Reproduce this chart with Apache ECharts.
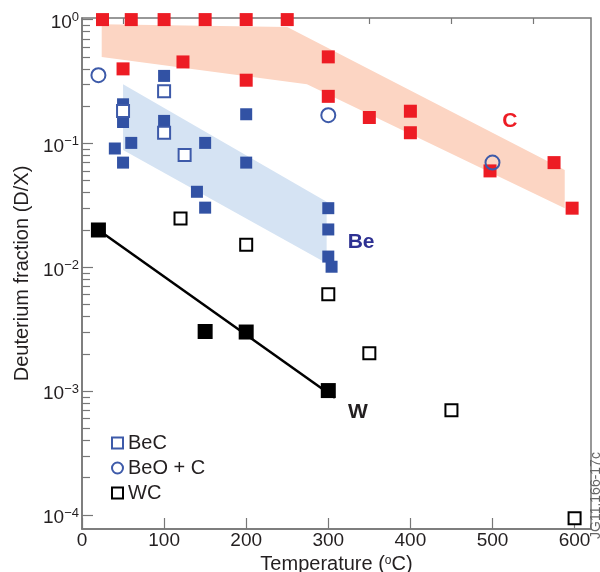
<!DOCTYPE html>
<html>
<head>
<meta charset="utf-8">
<script src="https://cdn.jsdelivr.net/npm/echarts@6/dist/echarts.min.js"></script>
<style>
html, body { margin: 0; padding: 0; background: #fff; }
#main { width: 600px; height: 572px; }
</style>
</head>
<body>
<div id="main"></div>
<script>
var chart = echarts.init(document.getElementById('main'));

// tick values
var xTicks = [0, 100, 200, 300, 400, 500, 600];
var xMinorTicks = [50, 150, 250, 350, 450, 550];
var yTicks = [1e-4, 1e-3, 1e-2, 1e-1, 1];
var yMinorTicks = [
    2e-4, 3e-4, 4e-4, 5e-4, 6e-4, 7e-4, 8e-4, 9e-4,
    2e-3, 3e-3, 4e-3, 5e-3, 6e-3, 7e-3, 8e-3, 9e-3,
    2e-2, 3e-2, 4e-2, 5e-2, 6e-2, 7e-2, 8e-2, 9e-2,
    0.2, 0.3, 0.4, 0.5, 0.6, 0.7, 0.8, 0.9
];

// [temperature, D/X]
var carbonPts = [[25, 1], [60, 1], [100, 1], [150, 1], [200, 1], [250, 1],
    [50, 0.40], [123, 0.455], [200, 0.324], [300, 0.50], [300, 0.24], [350, 0.162],
    [400, 0.182], [400, 0.122], [497, 0.060], [575, 0.070], [597, 0.030]];
var bePts = [[50, 0.207], [50, 0.149], [40, 0.091], [60, 0.101], [50, 0.070],
    [100, 0.351], [100, 0.152], [150, 0.101], [200, 0.172], [200, 0.070],
    [140, 0.0407], [150, 0.0303], [300, 0.030], [300, 0.0202], [300, 0.0122], [304, 0.0101]];
var becPts = [[100, 0.264], [50, 0.183], [100, 0.122], [125, 0.0805]];
var beoPts = [[20, 0.356], [300, 0.169], [500, 0.070]];
var wPts = [[20, 0.020], [150, 0.00303], [200, 0.0030], [300, 0.00101]];
var wcPts = [[120, 0.0248], [200, 0.0152], [300, 0.00605], [350, 0.00202], [450, 0.00070], [600, 0.000094]];
var wFit = [[20, 0.020], [308, 0.000885]];

// shaded ranges (polygon corners)
var carbonBand = [[24, 0.916], [250, 0.871], [588, 0.061], [588, 0.030], [274, 0.301], [24, 0.499]];
var beBand = [[50, 0.30], [298, 0.0338], [298, 0.0108], [50, 0.0883]];

// text labels for the three groups
var groupNames = ['C', 'Be', 'W'];
var groupAt = [[521, 0.150], [340, 0.0160], [336, 0.00067]];

var axisGray = '#777';
var textDark = '#231f20';

function band(name, pts, color) {
    return {
        name: name,
        type: 'custom',
        silent: true,
        z: 1,
        data: [pts[0]],
        renderItem: function (params, api) {
            return {
                type: 'polygon',
                shape: { points: pts.map(function (p) { return api.coord(p); }) },
                style: { fill: color }
            };
        }
    };
}

var labelColors = ['#ed1c24', '#2e3192', textDark];

var option = {
    animation: false,
    textStyle: { fontFamily: 'Liberation Sans' },
    grid: {
        left: 82, right: 9, top: 18, bottom: 43,
        outerBoundsMode: 'none',
        show: true, borderColor: axisGray, borderWidth: 1.5
    },
    legend: {
        data: ['BeC', 'BeO + C', 'WC'],
        orient: 'vertical',
        left: 106,
        top: 428,
        itemWidth: 11,
        itemHeight: 11,
        itemGap: 5,
        textStyle: { fontSize: 20, color: textDark }
    },
    xAxis: [{
        type: 'value',
        min: 0, max: 620,
        name: 'Temperature ({s|o}C)',
        nameLocation: 'middle',
        nameGap: 18,
        nameTextStyle: {
            fontSize: 20, color: textDark,
            rich: { s: { fontSize: 12, verticalAlign: 'top', color: textDark } }
        },
        axisLine: { lineStyle: { color: axisGray, width: 1.5 } },
        axisTick: { inside: true, length: 11, customValues: xTicks, lineStyle: { color: axisGray, width: 1.2 } },
        axisLabel: { customValues: xTicks, fontSize: 19, color: textDark, margin: 2 },
        splitLine: { show: false }
    }, {
        type: 'value',
        min: 0, max: 620,
        axisLine: { show: false },
        axisTick: { inside: true, length: 6, customValues: xMinorTicks, lineStyle: { color: axisGray, width: 1.2 } },
        axisLabel: { show: false },
        splitLine: { show: false }
    }],
    yAxis: [{
        type: 'log',
        min: 7.7e-5, max: 1.03,
        name: 'Deuterium fraction (D/X)',
        nameLocation: 'middle',
        nameGap: 49,
        nameTextStyle: { fontSize: 20, color: textDark },
        axisLine: { lineStyle: { color: axisGray, width: 1.5 } },
        axisTick: { inside: true, length: 11, customValues: yTicks, lineStyle: { color: axisGray, width: 1.2 } },
        axisLabel: {
            customValues: yTicks,
            margin: 3,
            formatter: function (v) {
                var e = Math.round(Math.log10(v));
                return '{b|10}{s|' + (e < 0 ? '\u2212' + (-e) : e) + '}';
            },
            rich: {
                b: { fontSize: 19, color: textDark, padding: [6, 0, 0, 0] },
                s: { fontSize: 13, color: textDark, verticalAlign: 'top', padding: [4, 0, 0, 0] }
            }
        },
        splitLine: { show: false }
    }, {
        type: 'log',
        min: 7.7e-5, max: 1.03,
        position: 'left',
        axisLine: { show: false },
        axisTick: { inside: true, length: 8, customValues: yMinorTicks, lineStyle: { color: axisGray, width: 1.2 } },
        axisLabel: { show: false },
        splitLine: { show: false }
    }],
    graphic: [{
        type: 'text',
        x: 603, y: 539,
        rotation: Math.PI / 2,
        style: { text: 'JG11.166-17c', fontSize: 14, fill: '#666', align: 'left', verticalAlign: 'bottom', fontFamily: 'Liberation Sans' }
    }],
    series: [
        band('C band', carbonBand, '#fcd5c3'),
        band('Be band', beBand, '#d5e3f3'),
        {
            name: 'C', type: 'scatter', data: carbonPts, clip: false, z: 3,
            symbol: 'rect', symbolSize: 13,
            itemStyle: { color: '#ed1c24', opacity: 1 }
        },
        {
            name: 'Be', type: 'scatter', data: bePts, clip: false, z: 3,
            symbol: 'rect', symbolSize: 12,
            itemStyle: { color: '#3252a4', opacity: 1 }
        },
        {
            name: 'BeC', type: 'scatter', data: becPts, z: 4,
            symbol: 'rect', symbolSize: 12,
            itemStyle: { color: '#fff', borderColor: '#3d5aa9', borderWidth: 2, opacity: 1 }
        },
        {
            name: 'BeO + C', type: 'scatter', data: beoPts, z: 4,
            symbol: 'circle', symbolSize: 14,
            itemStyle: { color: 'rgba(0,0,0,0)', borderColor: '#3d5aa9', borderWidth: 2, opacity: 1 }
        },
        {
            name: 'WC', type: 'scatter', data: wcPts, clip: false, z: 4,
            symbol: 'rect', symbolSize: 12,
            itemStyle: { color: '#fff', borderColor: '#000', borderWidth: 2, opacity: 1 }
        },
        {
            name: 'W', type: 'scatter', data: wPts, z: 4,
            symbol: 'rect', symbolSize: 15,
            itemStyle: { color: '#000', opacity: 1 }
        },
        {
            name: 'W fit', type: 'line', data: wFit, z: 5,
            symbol: 'none',
            lineStyle: { color: '#000', width: 2.5 }
        },
        {
            name: 'labels', type: 'scatter', z: 6, silent: true,
            symbolSize: 1,
            itemStyle: { color: 'rgba(0,0,0,0)', opacity: 1 },
            data: groupNames.map(function (n, i) {
                return {
                    name: n, value: groupAt[i],
                    label: { show: true, position: 'inside', formatter: '{b}', fontSize: 21, fontWeight: 'bold', color: labelColors[i] }
                };
            })
        }
    ]
};
chart.setOption(option);
</script>
</body>
</html>
